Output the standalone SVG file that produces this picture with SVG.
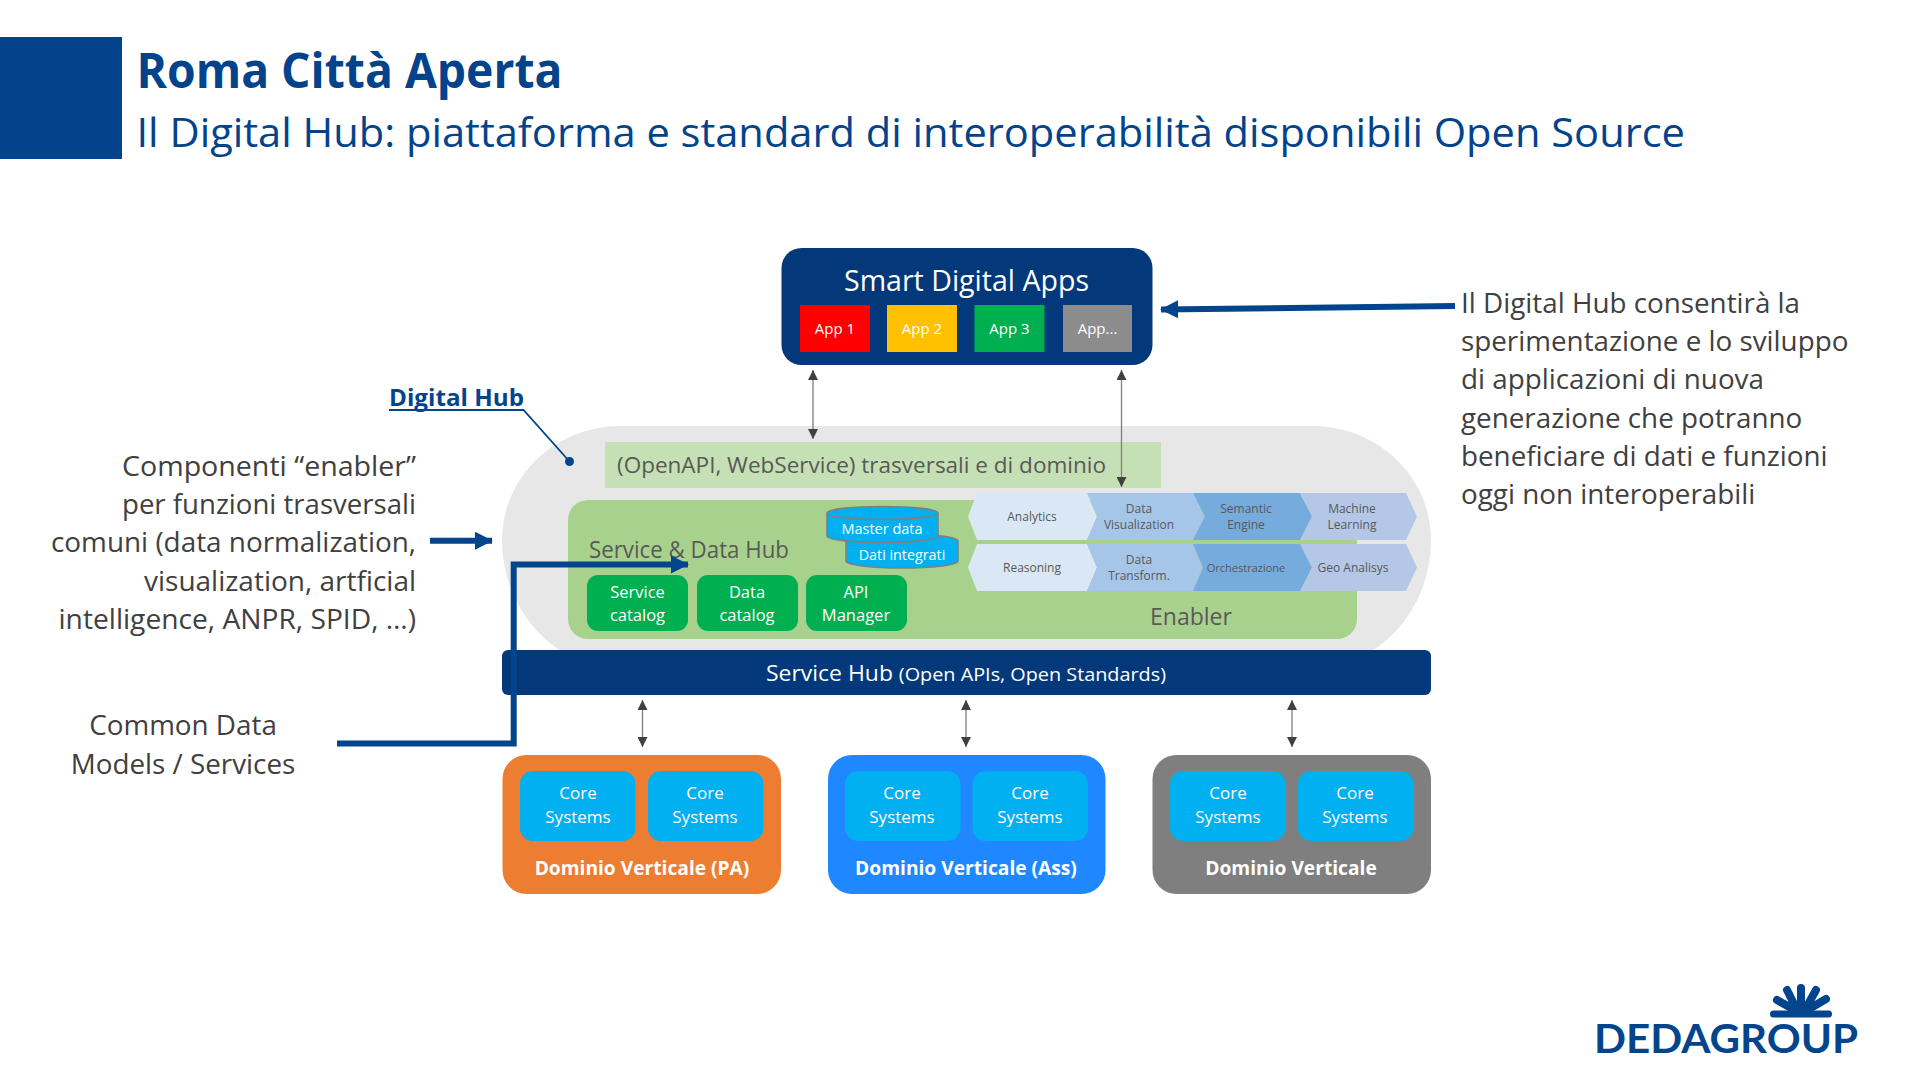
<svg xmlns="http://www.w3.org/2000/svg" width="1920" height="1080" viewBox="0 0 1920 1080">
<style>
text{font-family:"Open Sans","Noto Sans","Liberation Sans",sans-serif}
.m{text-anchor:middle}
.e{text-anchor:end}
.body{font-size:27.8px;fill:#404040}
.app{font-size:15px;fill:#fff;text-anchor:middle}
.hex{font-size:12px;fill:#595959;text-anchor:middle}
.btn{font-size:16.5px;fill:#fff;text-anchor:middle}
.core{font-size:17px;fill:#fff;text-anchor:middle}
.dom{font-size:19.2px;font-weight:700;fill:#fff;text-anchor:middle}
.thin{fill:none;stroke:#7F7F7F;stroke-width:1.3;marker-start:url(#tinyS);marker-end:url(#tiny)}
.blue{fill:none;stroke:#03458D;stroke-width:6}
.cyl{fill:#00B0F0;stroke:#7F7F7F;stroke-width:1.6}
.corebox{fill:#00B0F0}
.green{fill:#00B050}
.ray{stroke:#03458D;stroke-width:8;stroke-linecap:round;fill:none}
</style>
<defs>
<marker id="tiny" viewBox="0 0 10 10" refX="10" refY="5" markerWidth="10" markerHeight="10" markerUnits="userSpaceOnUse" orient="auto"><path d="M0 0L10 5L0 10Z" fill="#404040"/></marker>
<marker id="tinyS" viewBox="0 0 10 10" refX="0" refY="5" markerWidth="10" markerHeight="10" markerUnits="userSpaceOnUse" orient="auto"><path d="M10 0L0 5L10 10Z" fill="#404040"/></marker>
<marker id="big" viewBox="0 0 10 10" refX="9.5" refY="5" markerWidth="18" markerHeight="18" markerUnits="userSpaceOnUse" orient="auto"><path d="M0 0L10 5L0 10Z" fill="#03458D"/></marker>
</defs>

<g id="header">
<rect x="0" y="37" width="122" height="122" fill="#03438C"/>
<text x="136.5" y="87.5" font-size="48" font-weight="700" fill="#03438C" textLength="426" lengthAdjust="spacingAndGlyphs">Roma Città Aperta</text>
<text x="136.5" y="147" font-size="40" fill="#03438C" textLength="1548.5" lengthAdjust="spacingAndGlyphs">Il Digital Hub: piattaforma e standard di interoperabilità disponibili Open Source</text>
</g>

<g id="digital-hub-body">
<path fill="#E7E7E7" d="M620 426H1313A118 114 0 0 1 1431 540A118 128 0 0 1 1313 668H620A118 128 0 0 1 502 540A118 114 0 0 1 620 426Z"/>
</g>
<g id="api-bar">
<rect x="605" y="442" width="556" height="46" fill="#C5E0B4"/>
<text x="617" y="473" font-size="22.5" fill="#595959" textLength="489" lengthAdjust="spacingAndGlyphs">(OpenAPI, WebService) trasversali e di dominio</text>
</g>
<g id="service-data-hub">
<rect x="568" y="500" width="789" height="139" rx="20" fill="#A9D18E"/>
<text x="589" y="558" font-size="23" fill="#595959" textLength="200" lengthAdjust="spacingAndGlyphs">Service &amp; Data Hub</text>
<text x="1191" y="625" font-size="23" fill="#595959" class="m">Enabler</text>
</g>
<g id="service-catalog"><rect class="green" x="587" y="575" width="101" height="56" rx="11"/><text class="btn" x="637.5" y="598">Service</text><text class="btn" x="637.5" y="620.5">catalog</text></g>
<g id="data-catalog"><rect class="green" x="697" y="575" width="101" height="56" rx="11"/><text class="btn" x="747" y="598">Data</text><text class="btn" x="747" y="620.5">catalog</text></g>
<g id="api-manager"><rect class="green" x="806" y="575" width="101" height="56" rx="11"/><text class="btn" x="856" y="598">API</text><text class="btn" x="856" y="620.5">Manager</text></g>

<g id="dati-integrati">
<path class="cyl" d="M846 541V561A56 7 0 0 0 958 561V541A56 7 0 0 0 846 541Z"/>
<text x="902" y="560" font-size="14.3" fill="#fff" class="m">Dati integrati</text>
</g>
<g id="master-data">
<path class="cyl" d="M827 513V536A55.5 6.5 0 0 0 938 536V513A55.5 6.5 0 0 0 827 513Z"/>
<path class="cyl" d="M827 513A55.5 6.5 0 0 0 938 513" style="fill:none"/>
<text x="882" y="534" font-size="14.5" fill="#fff" class="m">Master data</text>
</g>

<g id="analytics"><path fill="#DAE8F5" d="M977 493H1087L1097 516.5L1087 540H977L968 516.5Z"/><text class="hex" x="1032" y="521">Analytics</text></g>
<g id="data-visualization"><path fill="#A5C6E8" d="M1087 493H1193L1205 516.5L1193 540H1087L1097 516.5Z"/><text class="hex" x="1139" y="513">Data</text><text class="hex" x="1139" y="529">Visualization</text></g>
<g id="semantic-engine"><path fill="#76ABDD" d="M1193 493H1300L1312 516.5L1300 540H1193L1205 516.5Z"/><text class="hex" x="1246" y="513">Semantic</text><text class="hex" x="1246" y="529">Engine</text></g>
<g id="machine-learning"><path fill="#B4C7E7" d="M1300 493H1406L1417 516.5L1406 540H1300L1312 516.5Z"/><text class="hex" x="1352" y="513">Machine</text><text class="hex" x="1352" y="529">Learning</text></g>
<g id="reasoning"><path fill="#DAE8F5" d="M977 544H1087L1097 567.5L1087 591H977L968 567.5Z"/><text class="hex" x="1032" y="572">Reasoning</text></g>
<g id="data-transform"><path fill="#A5C6E8" d="M1087 544H1193L1203 567.5L1193 591H1087L1097 567.5Z"/><text class="hex" x="1139" y="563.5">Data</text><text class="hex" x="1139" y="579.5">Transform.</text></g>
<g id="orchestrazione"><path fill="#76ABDD" d="M1193 544H1300L1312 567.5L1300 591H1193L1203 567.5Z"/><text class="hex" x="1246" y="572" style="font-size:11px">Orchestrazione</text></g>
<g id="geo-analisys"><path fill="#B4C7E7" d="M1300 544H1406L1417 567.5L1406 591H1300L1312 567.5Z"/><text class="hex" x="1353" y="572">Geo Analisys</text></g>

<g id="service-hub">
<rect x="502" y="650" width="929" height="45" rx="6" fill="#03397A"/>
<text x="766" y="681" font-size="22" fill="#fff" textLength="400" lengthAdjust="spacingAndGlyphs">Service Hub <tspan font-size="19">(Open APIs, Open Standards)</tspan></text>
</g>

<g id="smart-digital-apps">
<rect x="781.5" y="248" width="371" height="117" rx="20" fill="#03397A"/>
<text x="966.5" y="291" font-size="29" fill="#fff" class="m" textLength="245" lengthAdjust="spacingAndGlyphs">Smart Digital Apps</text>
</g>
<g id="app-1"><rect x="800" y="305" width="70" height="47" fill="#FF0000"/><text class="app" x="835" y="334">App 1</text></g>
<g id="app-2"><rect x="887" y="305" width="70" height="47" fill="#FFC000"/><text class="app" x="922" y="334">App 2</text></g>
<g id="app-3"><rect x="974.5" y="305" width="70" height="47" fill="#00B050"/><text class="app" x="1009.5" y="334">App 3</text></g>
<g id="app-4"><rect x="1063" y="305" width="69" height="47" fill="#8C8C8C"/><text class="app" x="1097.5" y="334">App...</text></g>

<g id="dominio-pa">
<rect x="502.5" y="755" width="278.5" height="139" rx="24" fill="#ED7D31"/>
<rect class="corebox" x="520" y="771" width="115.5" height="70" rx="13"/><text class="core" x="578" y="799">Core</text><text class="core" x="578" y="823">Systems</text>
<rect class="corebox" x="648" y="771" width="115.5" height="70" rx="13"/><text class="core" x="705" y="799">Core</text><text class="core" x="705" y="823">Systems</text>
<text class="dom" x="642" y="875">Dominio Verticale (PA)</text>
</g>
<g id="dominio-ass">
<rect x="828" y="755" width="277.5" height="139" rx="24" fill="#1F87FF"/>
<rect class="corebox" x="845" y="771" width="115.5" height="70" rx="13"/><text class="core" x="902" y="799">Core</text><text class="core" x="902" y="823">Systems</text>
<rect class="corebox" x="972.5" y="771" width="115.5" height="70" rx="13"/><text class="core" x="1030" y="799">Core</text><text class="core" x="1030" y="823">Systems</text>
<text class="dom" x="966" y="875">Dominio Verticale (Ass)</text>
</g>
<g id="dominio-verticale">
<rect x="1152.5" y="755" width="278.5" height="139" rx="24" fill="#7F7F7F"/>
<rect class="corebox" x="1170" y="771" width="115.5" height="70" rx="13"/><text class="core" x="1228" y="799">Core</text><text class="core" x="1228" y="823">Systems</text>
<rect class="corebox" x="1298" y="771" width="115.5" height="70" rx="13"/><text class="core" x="1355" y="799">Core</text><text class="core" x="1355" y="823">Systems</text>
<text class="dom" x="1291" y="875">Dominio Verticale</text>
</g>

<g id="connectors">
<path class="thin" d="M813 370V439"/>
<path class="thin" d="M1121.5 370V487"/>
<path class="thin" d="M642.5 700V747"/>
<path class="thin" d="M966 700V747"/>
<path class="thin" d="M1292 700V747"/>
<path class="blue" d="M1455 306L1161 309.5" marker-end="url(#big)"/>
<path class="blue" d="M430 540.7H492" marker-end="url(#big)"/>
<path class="blue" d="M337 743.5H513.7V564.5H688" marker-end="url(#big)"/>
<path d="M389 410H523.5L569.5 461.5" fill="none" stroke="#03458D" stroke-width="1.8"/>
<circle cx="569.5" cy="461.5" r="4.5" fill="#03458D"/>
</g>

<g id="note-digital-hub">
<text x="389" y="406" font-size="24" font-weight="700" fill="#03458D" textLength="135" lengthAdjust="spacingAndGlyphs">Digital Hub</text>
</g>
<g id="note-enabler">
<text class="body e" x="416" y="475.5" textLength="294" lengthAdjust="spacingAndGlyphs">Componenti “enabler”</text>
<text class="body e" x="416" y="514" textLength="294" lengthAdjust="spacingAndGlyphs">per funzioni trasversali</text>
<text class="body e" x="416" y="552" textLength="365" lengthAdjust="spacingAndGlyphs">comuni (data normalization,</text>
<text class="body e" x="416" y="591" textLength="272" lengthAdjust="spacingAndGlyphs">visualization, artficial</text>
<text class="body e" x="416" y="629" textLength="357.5" lengthAdjust="spacingAndGlyphs">intelligence, ANPR, SPID, …)</text>
</g>
<g id="note-common">
<text class="body m" x="183" y="735">Common Data</text>
<text class="body m" x="183" y="773.5">Models / Services</text>
</g>
<g id="note-apps">
<text class="body" x="1461" y="313">Il Digital Hub consentirà la</text>
<text class="body" x="1461" y="351">sperimentazione e lo sviluppo</text>
<text class="body" x="1461" y="389">di applicazioni di nuova</text>
<text class="body" x="1461" y="427.5">generazione che potranno</text>
<text class="body" x="1461" y="465.5">beneficiare di dati e funzioni</text>
<text class="body" x="1461" y="504">oggi non interoperabili</text>
</g>

<g id="logo">
<path class="ray" style="stroke-width:7" d="M1773.5 1014H1828.5"/>
<path class="ray" d="M1801 988V1008M1787 990L1796 1008M1816 990L1806 1008M1777 1000L1793 1009M1826 999L1809 1009"/>
<text x="1594" y="1053" font-size="41" font-weight="700" fill="#03458D" style="font-family:Lato,'Open Sans',sans-serif" textLength="264" lengthAdjust="spacingAndGlyphs">DEDAGROUP</text>
</g>
</svg>
